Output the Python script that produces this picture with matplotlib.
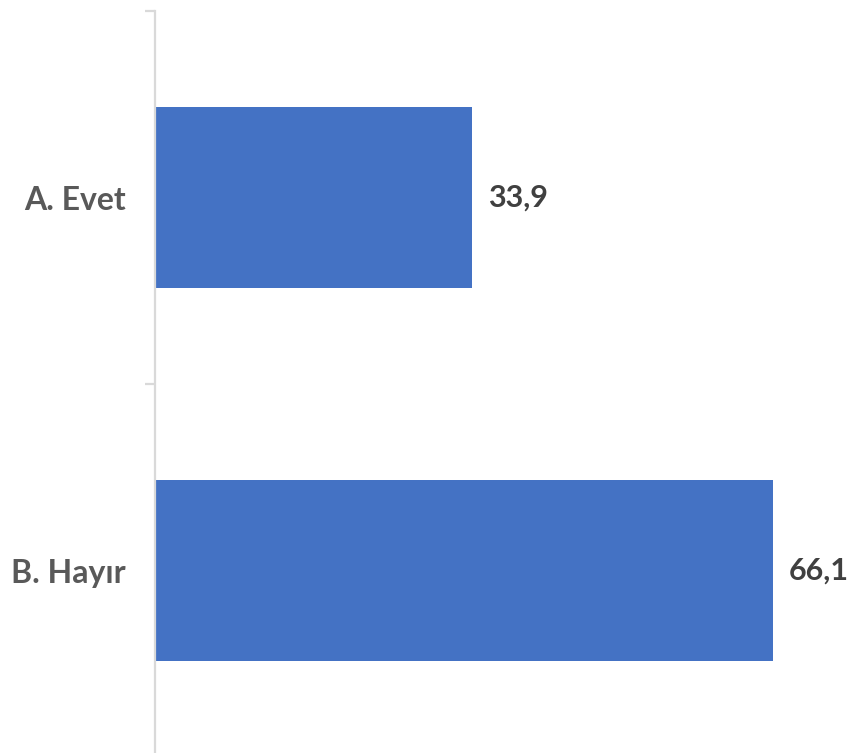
import matplotlib
matplotlib.use("Agg")
import matplotlib.pyplot as plt
from matplotlib.ticker import FixedLocator

categories = ["A. Evet", "B. Hayır"]
values = [33.9, 66.1]
value_labels = ["33,9", "66,1"]

W, H = 852, 753
fig = plt.figure(figsize=(W / 100, H / 100), dpi=100)
left, right = 155, 808
top, bottom = 11, 757
ax = fig.add_axes([left / W, (H - bottom) / H, (right - left) / W, (bottom - top) / H])

ypos = list(range(len(categories)))
ax.barh(ypos, values, height=0.485, color="#4472C4", zorder=2)
ax.set_xlim(0, (right - left) / 9.35)
ax.set_ylim(len(categories) - 0.5, -0.5)

for sp in ["top", "right", "bottom"]:
    ax.spines[sp].set_visible(False)
ax.spines["left"].set_color("#d9d9d9")
ax.spines["left"].set_linewidth(1.6)
ax.set_xticks([])

ax.set_yticks(ypos)
ax.set_yticklabels(categories)
ax.yaxis.set_minor_locator(FixedLocator([i - 0.5 for i in range(len(categories) + 1)]))
ax.tick_params(axis="y", which="major", length=0, pad=21,
               labelsize=23, labelcolor="#595959")
ax.tick_params(axis="y", which="minor", length=7.5, width=1.6, color="#d9d9d9")
for t in ax.get_yticklabels():
    t.set_fontweight("bold")
    t.set_fontfamily("Lato")

for y, v, lab in zip(ypos, values, value_labels):
    ax.annotate(lab, xy=(v, y), xytext=(16 * 0.72, 0), textcoords="offset points",
                va="center", ha="left", fontsize=22, fontweight="bold",
                color="#404040", family="Lato")

fig.savefig("out.png", dpi=100)
